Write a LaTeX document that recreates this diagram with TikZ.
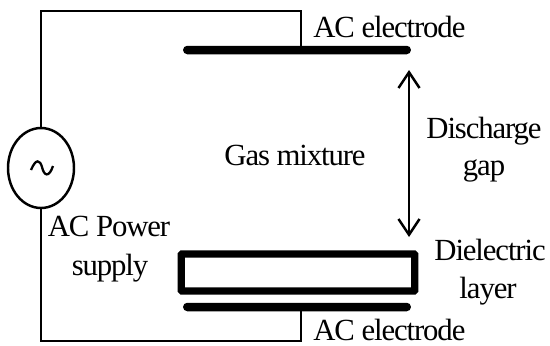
\documentclass[tikz,border=0pt]{standalone}
\usepackage{fontspec}
\setmainfont[LetterSpace=-3.6]{Liberation Serif}
\usetikzlibrary{shapes.geometric,arrows.meta}

\begin{document}
\begin{tikzpicture}[
  x=0.02cm,y=-0.02cm,
  wire/.style={line width=1.4pt},
  plate/.style={rectangle,fill=black,rounded corners=2.4pt,minimum width=4.56cm,
                minimum height=0.17cm,inner sep=0pt},
  layerbox/.style={rectangle,draw,line width=4.2pt,rounded corners=0.5pt,minimum width=4.67cm,
                minimum height=0.74cm,inner sep=0pt},
  source/.style={ellipse,draw,line width=1.4pt,minimum width=1.32cm,
                minimum height=1.6cm,inner sep=0pt},
  gaparrow/.style={{Straight Barb[length=9pt,width=12pt]}-{Straight Barb[length=9pt,width=12pt]},line width=1.4pt},
  label/.style={font=\fontsize{17.5}{20}\selectfont,anchor=base,inner sep=0pt},
]
  \useasboundingbox (0,0) rectangle (550,345);

  \node[source] (src) at (41,168) {};
  \node[plate] (top) at (297,50) {};
  \node[plate] (bot) at (297,307) {};
  \node[layerbox] (diel) at (298,272.5) {};

  % wires round the outside
  \coordinate (tl) at (41,11);
  \coordinate (tr) at (301,11);
  \coordinate (bl) at (41,341);
  \coordinate (br) at (301,341);
  \draw[wire] (src.north) -- (tl) -- (tr) -- (tr |- top.center);
  \draw[wire] (src.south) -- (bl) -- (br) -- (br |- bot.center);

  % sine inside the source
  \draw[wire,line width=1.3pt] (31,170) .. controls (36,158) and (40,160) .. (42,167)
    .. controls (44,176) and (49,178) .. (53,166);

  \coordinate (gaptop) at (409,70);
  \coordinate (gapbot) at (409,237);
  \draw[gaparrow] (gaptop) -- (gapbot);

  \node[label,anchor=base west] (lbtop) at (313,37) {AC electrode};
  \node[label,anchor=base west] (lbbot) at (313,340) {AC electrode};
  \node[label] (lbgas) at (295,165) {Gas mixture};
  \node[label] (lbpow) at (109,236) {AC Power};
  \node[label] (lbsup) at (110,275) {supply};
  \node[label] (lbdis) at (484,138) {Discharge};
  \node[label] (lbgap) at (484,175) {gap};
  \node[label] (lbdie) at (490,260) {Dielectric};
  \node[label] (lblay) at (488,298) {layer};
\end{tikzpicture}
\end{document}
